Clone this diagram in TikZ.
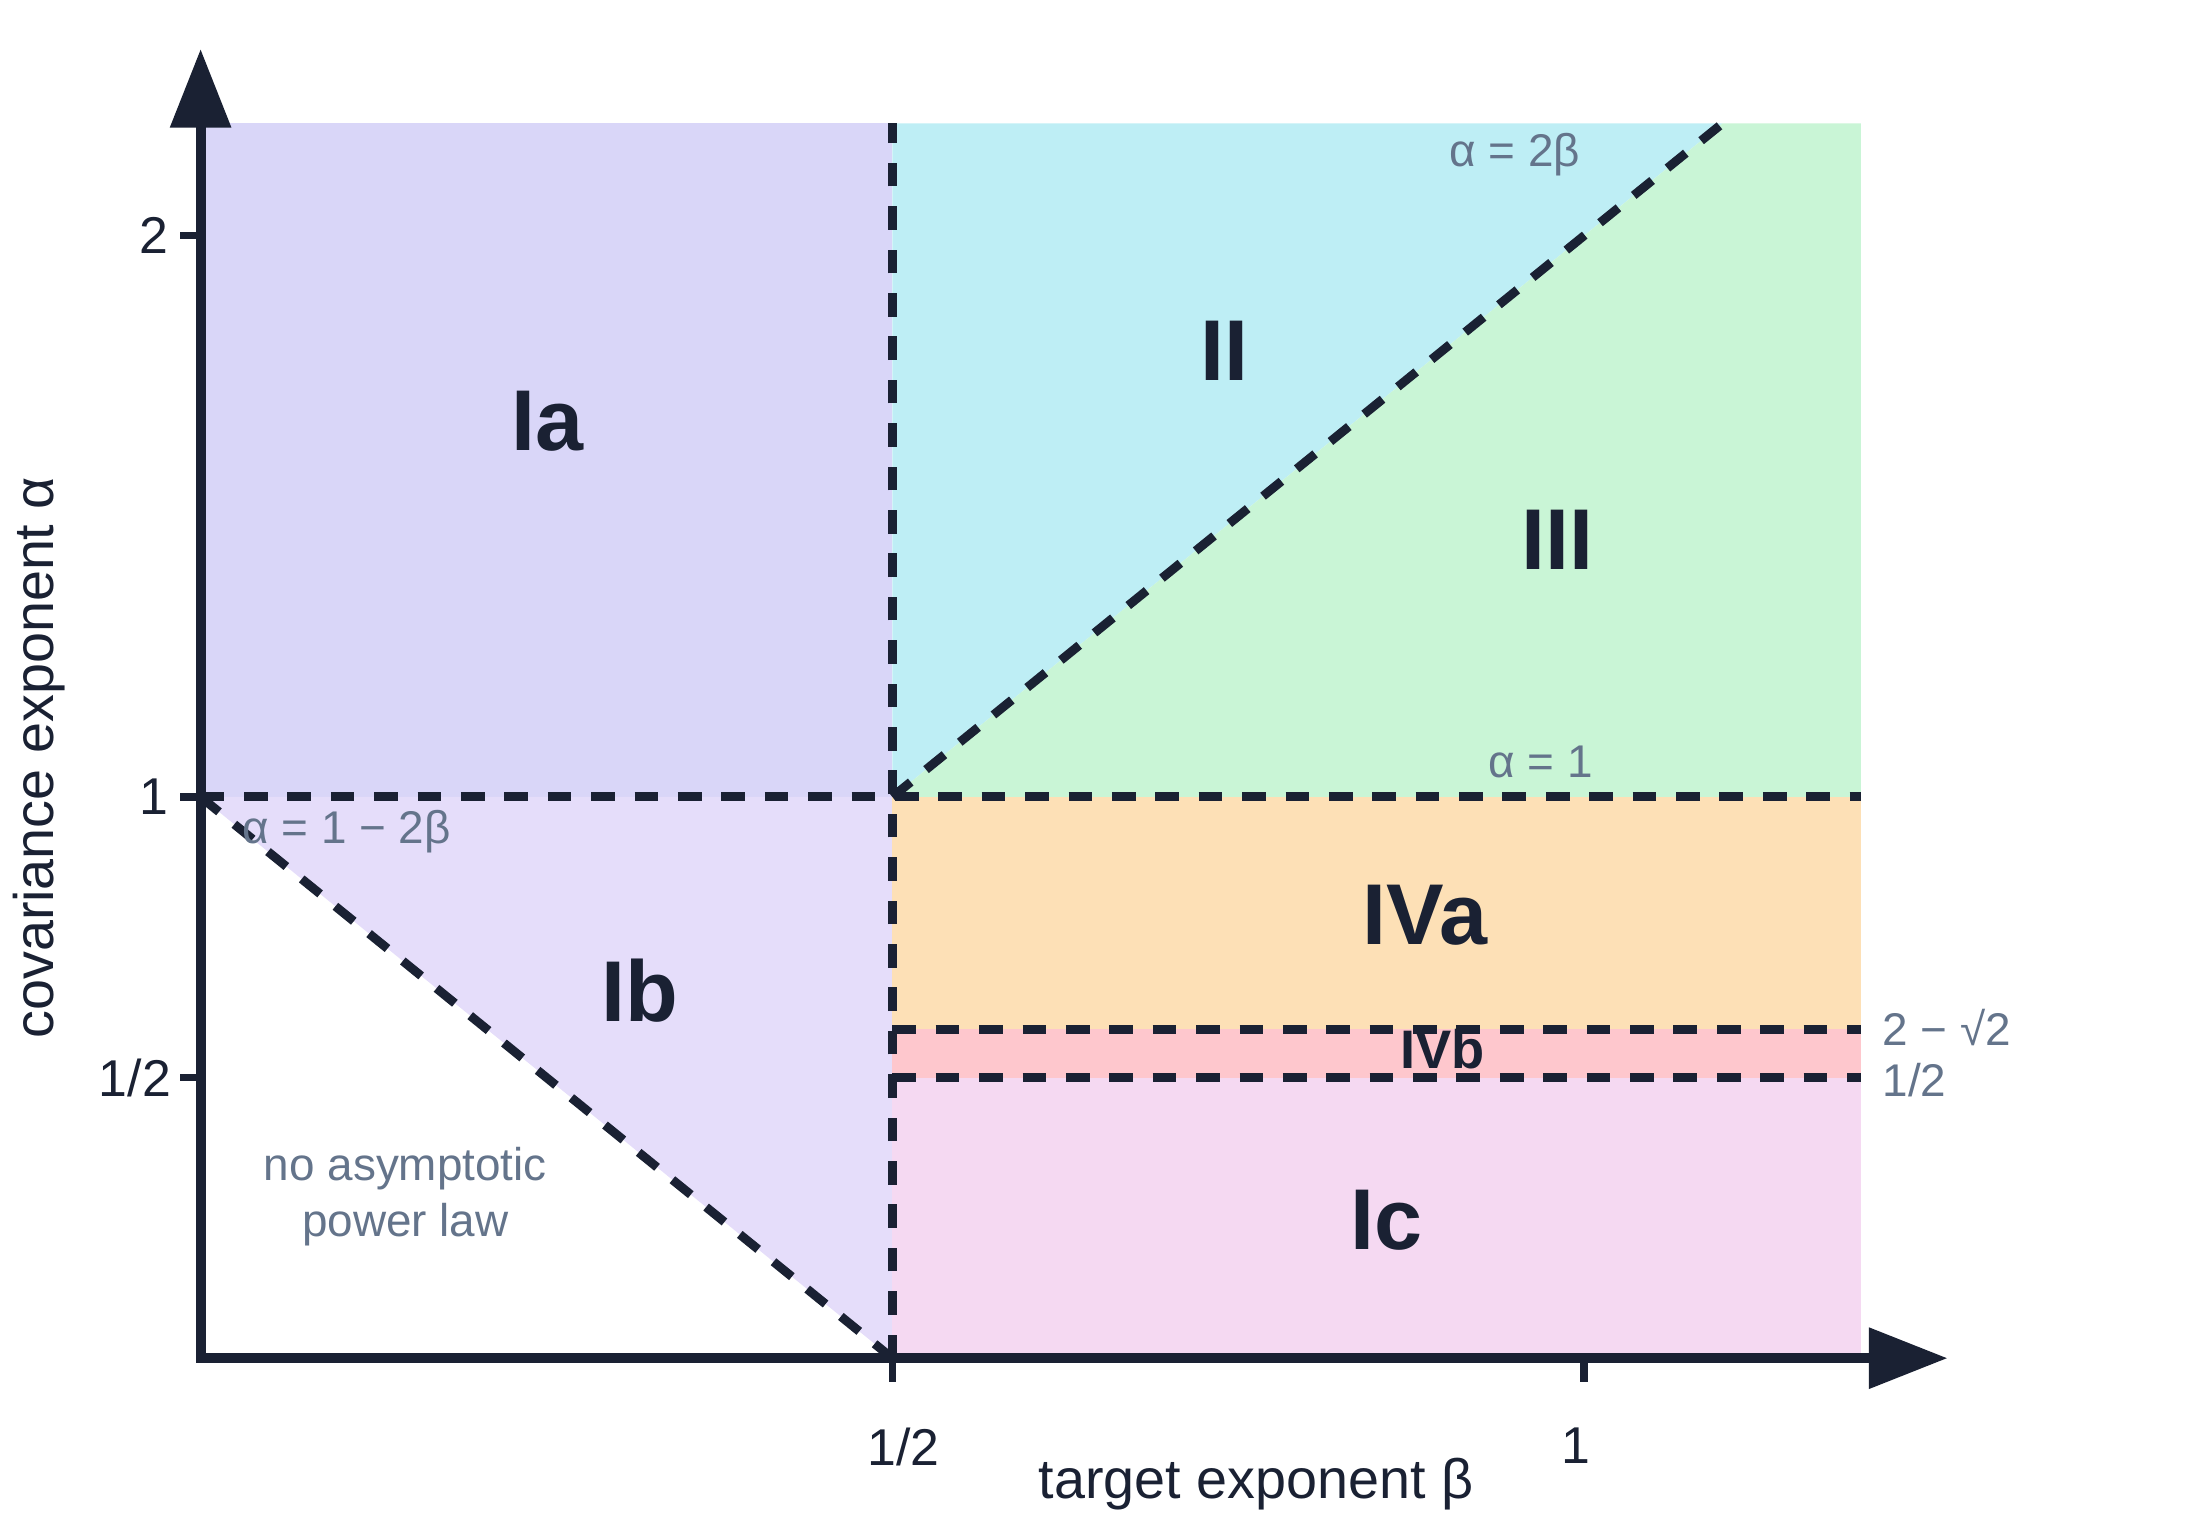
\documentclass[tikz,border=0pt]{standalone}
\usepackage{fontspec}
\setmainfont{Liberation Sans}
\usepackage{tikz}
\usetikzlibrary{arrows.meta,positioning}
\definecolor{ink}{HTML}{1A2133}
\definecolor{slate}{HTML}{64748B}
\definecolor{colIa}{HTML}{D9D6F8}
\definecolor{colIb}{HTML}{E5DDFA}
\definecolor{colII}{HTML}{BEEEF5}
\definecolor{colIII}{HTML}{C9F5D6}
\definecolor{colIVa}{HTML}{FDE0B6}
\definecolor{colIVb}{HTML}{FEC7CD}
\definecolor{colIc}{HTML}{F5D9F2}

\begin{document}
\begin{tikzpicture}[x=9.86cm, y=4cm,
    axis/.style={draw=ink, line width=2pt, {Triangle[length=0.56cm,width=0.42cm]}-{Triangle[length=0.56cm,width=0.42cm]}},
    boundary/.style={draw=ink, line width=1.8pt, dash pattern=on 4.8pt off 4pt},
    tickmark/.style={draw=ink, line width=1.5pt},
    regionlabel/.style={text=ink, font=\bfseries\fontsize{17.5}{20}\selectfont},
    note/.style={text=slate, font=\fontsize{9.3}{11.4}\selectfont, align=center},
    ticklabel/.style={text=ink, font=\fontsize{10.5}{12.6}\selectfont},
    axistitle/.style={text=ink, font=\fontsize{11.3}{13.5}\selectfont}
]
\useasboundingbox (-0.145,-0.2875) rectangle (1.4452,2.42);

\coordinate (O) at (0,0);
\coordinate (A1) at (0,1);
\coordinate (H0) at (0.5,0);
\coordinate (H1) at (0.5,1);
\coordinate (Htop) at (0.5,2.2);
\coordinate (Dtop) at (1.1,2.2);
\coordinate (Rtop) at (1.2,2.2);
\coordinate (R1) at (1.2,1);
\coordinate (Hs) at (0.5,{2-sqrt(2)});
\coordinate (Rs) at (1.2,{2-sqrt(2)});
\coordinate (Hh) at (0.5,0.5);
\coordinate (Rh) at (1.2,0.5);
\coordinate (Ytip) at (0,2.3325);
\coordinate (Xtip) at (1.2627,0);

\fill[colIa] (A1) rectangle (Htop);
\fill[colIb] (A1) -- (H1) -- (H0) -- cycle;
\fill[colII] (H1) -- (Htop) -- (Dtop) -- cycle;
\fill[colIII] (H1) -- (Dtop) -- (Rtop) -- (R1) -- cycle;
\fill[colIVa] (Hs) rectangle (R1);
\fill[colIVb] (Hh) rectangle (Rs);
\fill[colIc] (H0) rectangle (Rh);

\draw[boundary] (A1) -- (R1);
\draw[boundary] (H0) -- (Htop);
\draw[boundary] (A1) -- (H0);
\draw[boundary] (H1) -- (Dtop);
\draw[boundary] (Hs) -- (Rs);
\draw[boundary] (Hh) -- (Rh);

\draw[axis] (Ytip) -- (O) -- (Xtip);

\draw[tickmark] (0,2) -- ++(-0.15cm,0) node[left, inner sep=1.5pt, ticklabel] (ty2) {2};
\draw[tickmark] (0,1) -- ++(-0.15cm,0) node[left, inner sep=1.5pt, ticklabel] (ty1) {1};
\draw[tickmark] (0,0.5) -- ++(-0.15cm,0) node[left, inner sep=1pt, ticklabel] (tyh) {1/2};
\draw[tickmark] (0.5,0) -- ++(0,-0.17cm) coordinate (bx1);
\draw[tickmark] (1,0) -- ++(0,-0.17cm) coordinate (bx2);
\node[ticklabel, below=0.2cm of bx1, xshift=0.08cm] (txh) {1/2};
\node[ticklabel, below=0.2cm of bx2, xshift=-0.06cm] (tx1) {1};

\node[axistitle] (xtitle) at (0.763,-0.225) {target exponent β};
\node[axistitle, rotate=90] (ytitle) at (-0.1166,1.07) {covariance exponent α};

\node[regionlabel] (Ia) at (0.2505,1.67) {Ia};
\node[regionlabel] (Ib) at (0.3174,0.655) {Ib};
\node[regionlabel] (II) at (0.740,1.795) {II};
\node[regionlabel] (III) at (0.981,1.4575) {III};
\node[regionlabel] (IVa) at (0.885,0.79) {IVa};
\node[regionlabel, font=\bfseries\fontsize{11}{13}\selectfont] (IVb) at (0.8976,0.55) {IVb};
\node[regionlabel] (Ic) at (0.857,0.245) {Ic};

\node[note] (eq2b) at (0.950,2.145) {α = 2β};
\node[note] (eq1) at (0.9686,1.0625) {α = 1};
\node[note] (eq12b) at (0.1055,0.9375) {α = 1 − 2β};
\node[note, anchor=west, inner sep=0pt] (rt2) at (1.215,0.59) {2 − √2};
\node[note, anchor=west, inner sep=0pt] (rth) at (1.215,0.495) {1/2};
\node[note] (nopl) at (0.148,0.2875) {no asymptotic\\power law};

\end{tikzpicture}
\end{document}
